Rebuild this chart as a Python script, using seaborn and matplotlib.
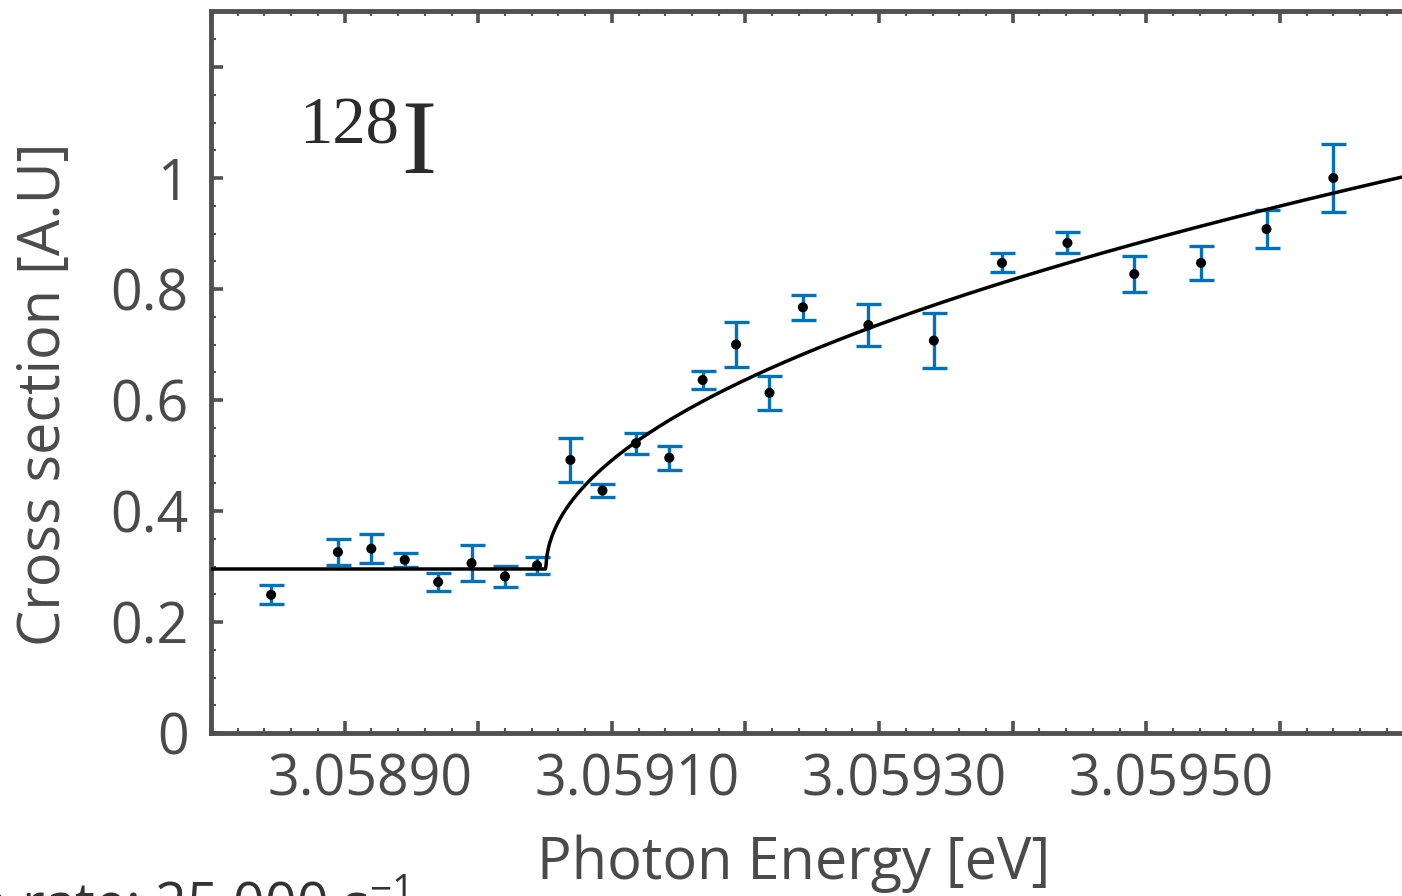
import numpy as np
import pandas as pd
import seaborn as sns
import matplotlib
matplotlib.use("Agg")
import matplotlib.pyplot as plt
from matplotlib.ticker import MultipleLocator
from matplotlib.transforms import ScaledTranslation

# ---------------- data ----------------
energy = [3.058745, 3.058795, 3.058820, 3.058845, 3.058870, 3.058895,
          3.058920, 3.058944, 3.058969, 3.058993, 3.059018, 3.059043,
          3.059068, 3.059093, 3.059118, 3.059143, 3.059192, 3.059241,
          3.059292, 3.059341, 3.059391, 3.059441, 3.059490, 3.059540]
cross_section = [0.249, 0.326, 0.332, 0.312, 0.272, 0.306,
                 0.282, 0.302, 0.492, 0.437, 0.522, 0.496,
                 0.636, 0.700, 0.613, 0.767, 0.735, 0.707,
                 0.847, 0.883, 0.827, 0.847, 0.908, 1.000]
error = [0.017, 0.023, 0.026, 0.013, 0.017, 0.032,
         0.019, 0.015, 0.040, 0.011, 0.019, 0.022,
         0.016, 0.041, 0.031, 0.023, 0.038, 0.049,
         0.017, 0.019, 0.032, 0.031, 0.035, 0.062]

# Wigner threshold-law fit parameters
fit_threshold = 3.0589507   # eV
fit_baseline = 0.2955
fit_amplitude = 27.9        # per sqrt(eV)

x_tick_labels = ["", "", "3.05890", "", "3.05910", "", "3.05930", "", "3.05950", ""]
y_tick_labels = ["0", "0.2", "0.4", "0.6", "0.8", "1", ""]

xlabel = "Photon Energy [eV]"
ylabel = "Cross section [A.U]"
iso_mass = "128"
iso_elem = "I"
rate_text = "n rate: 25 000 s$^{\\mathregular{-1}}$"

# ---------------- style ----------------
sns.set_theme(style="ticks")
plt.rcParams["font.family"] = ["Open Sans", "DejaVu Sans"]

W, H = 1402, 896
fig = plt.figure(figsize=(W / 100, H / 100), dpi=100)
fig.patch.set_facecolor("white")

ax = fig.add_axes([211 / W, (H - 733) / H, (1413.5 - 211) / W, (733 - 11.5) / H])
ax.set_facecolor("white")

spine_col = "#505050"
text_col = "#4a4a4a"

df = pd.DataFrame({"energy": energy, "cs": cross_section, "err": error})

# fit curve
xmin, xmax = 3.0587, 3.0596
xf = np.linspace(xmin, xmax, 2000)
yf = fit_baseline + fit_amplitude * np.sqrt(np.clip(xf - fit_threshold, 0, None))
fit_df = pd.DataFrame({"energy": xf, "cs": yf})
sns.lineplot(data=fit_df, x="energy", y="cs", ax=ax, color="black",
             linewidth=2.5, zorder=3, legend=False)

# error bars
ax.errorbar(df["energy"], df["cs"], yerr=df["err"], fmt="none",
            ecolor="#0072BD", elinewidth=2.4, capsize=9, capthick=2.4, zorder=2)

# points
sns.scatterplot(data=df, x="energy", y="cs", ax=ax, color="black", s=52,
                edgecolor="none", zorder=4, legend=False)

ax.set_xlim(xmin, xmax)
ax.set_ylim(0, 1.3)

# ticks
xt = [3.0587 + 0.0001 * i for i in range(10)]
ax.set_xticks(xt, labels=x_tick_labels)
ax.xaxis.set_minor_locator(MultipleLocator(0.00002))
yt = [0, 0.2, 0.4, 0.6, 0.8, 1.0, 1.2]
ax.set_yticks(yt, labels=y_tick_labels)
ax.yaxis.set_minor_locator(MultipleLocator(0.05))

ax.tick_params(which="both", direction="in", top=True, right=True,
               color=spine_col, labelcolor=text_col, labelsize=40)
ax.tick_params(which="major", length=8.6, width=2.6)
ax.tick_params(which="minor", length=3.6, width=1.5)
ax.tick_params(axis="x", which="major", pad=14)
ax.tick_params(axis="y", which="major", pad=16)

offset = ScaledTranslation(-6 / 100, 0, fig.dpi_scale_trans)
for lab in ax.get_xticklabels():
    lab.set_horizontalalignment("right")
    lab.set_transform(lab.get_transform() + offset)

for sp in ax.spines.values():
    sp.set_color(spine_col)
    sp.set_linewidth(3.5)
    sp.set_visible(True)

ax.set_xlabel("")
ax.set_ylabel("")

# axis labels
fig.text(794 / W, 1 - 879 / H, xlabel, ha="center", va="baseline",
         fontsize=41.5, color=text_col)
fig.text(45 / W, 1 - 394 / H, ylabel, ha="center", va="center",
         rotation=90, fontsize=41.5, color=text_col)

# isotope label
fig.text(299 / W, 1 - 143 / H, iso_mass, ha="left", va="baseline",
         fontsize=48, color="#2b2b2b", family="Liberation Serif")
fig.text(401 / W, 1 - 173 / H, iso_elem, ha="left", va="baseline",
         fontsize=76, color="#2b2b2b", family="Liberation Serif")

# cut-off annotation at bottom-left
fig.text(-27 / W, 1 - 923 / H, rate_text, ha="left", va="baseline",
         fontsize=40, color="#333333")

fig.savefig("out.png", dpi=100, facecolor="white")
